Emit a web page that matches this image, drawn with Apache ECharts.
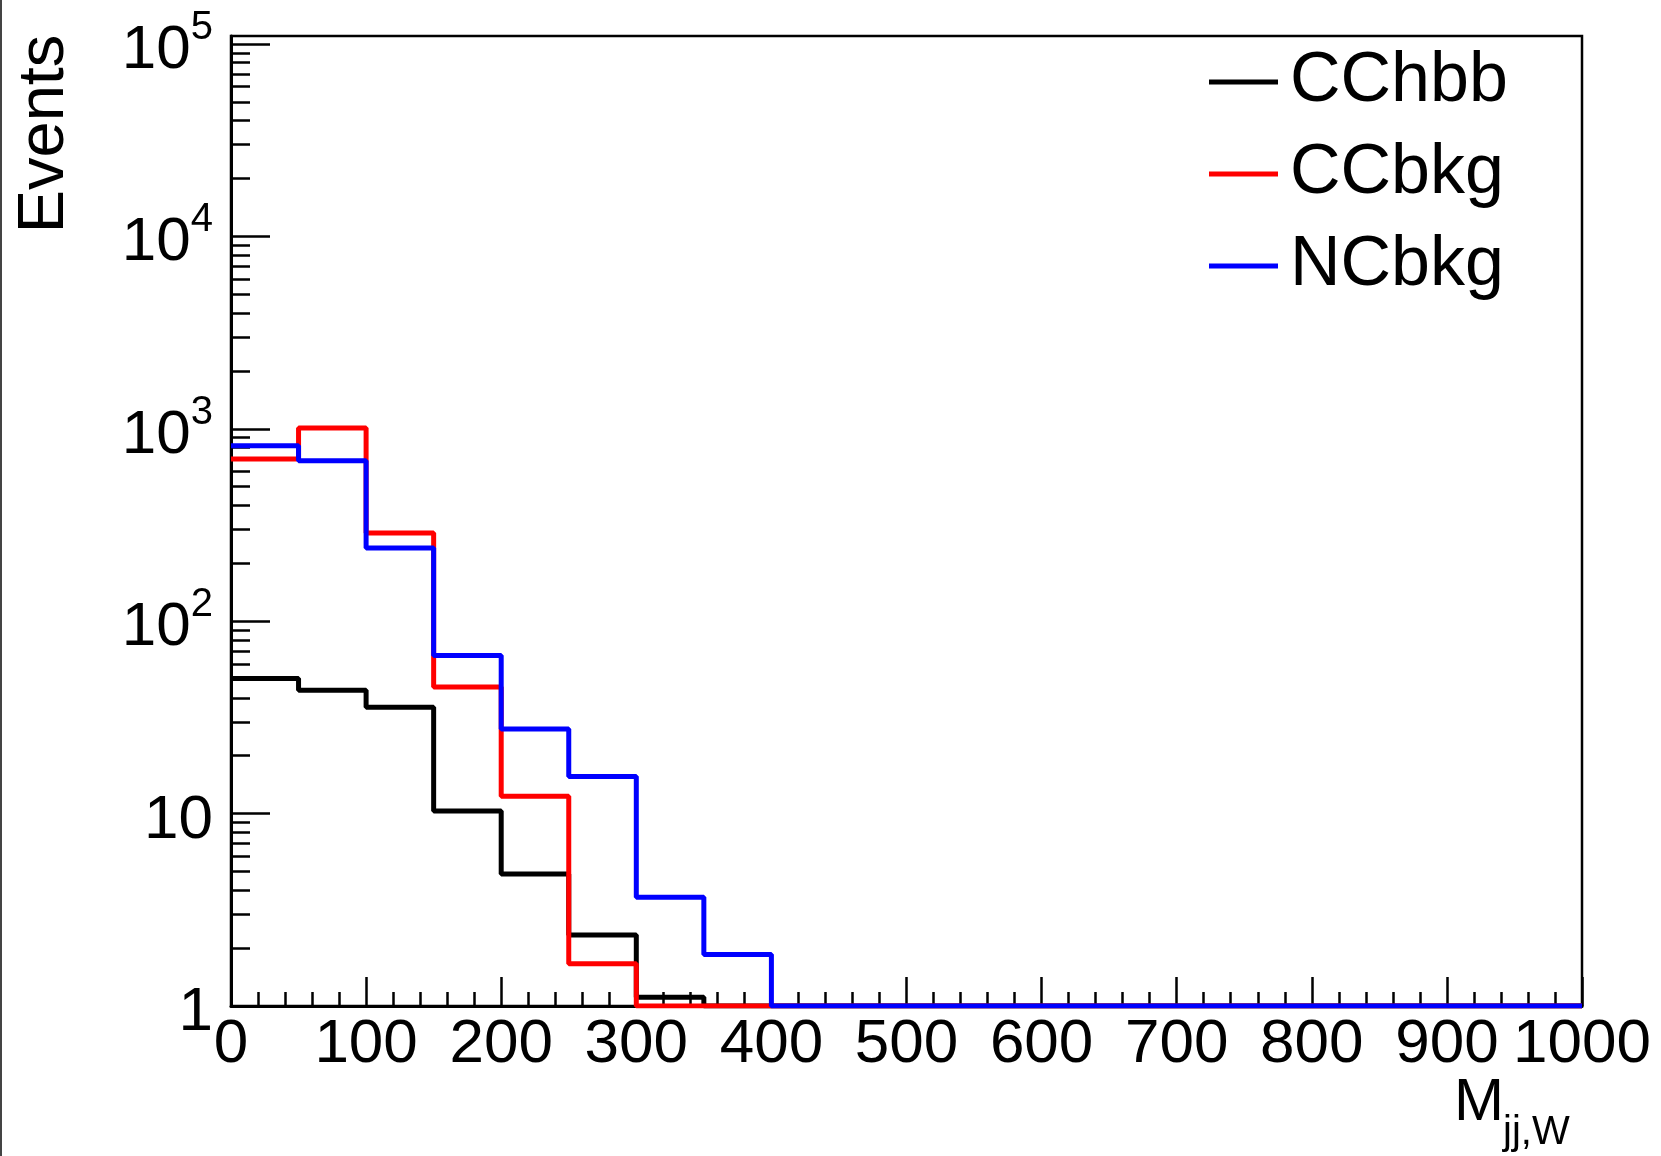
<!DOCTYPE html>
<html>
<head>
<meta charset="utf-8">
<script src="https://cdn.jsdelivr.net/npm/echarts@6/dist/echarts.min.js"></script>
<style>
html,body{margin:0;padding:0;background:#fff;}
#c{width:1661px;height:1156px;}
</style>
</head>
<body>
<div id="c"></div>
<script>
// Bin edges of M_jj,W (20 bins of width 50)
var binEdges = [0, 50, 100, 150, 200, 250, 300, 350, 400, 450, 500, 550, 600, 650, 700, 750, 800, 850, 900, 950, 1000];
// Bin contents (Events); empty bins = 0
var CChbb = [50.4, 43.7, 35.7, 10.3, 4.86, 2.34, 1.11, 0, 0, 0, 0, 0, 0, 0, 0, 0, 0, 0, 0, 0];
var CCbkg = [696, 1009, 287, 45.5, 12.3, 1.66, 0, 0, 0, 0, 0, 0, 0, 0, 0, 0, 0, 0, 0, 0];
var NCbkg = [816, 682, 240, 66.4, 27.5, 15.6, 3.67, 1.85, 0, 0, 0, 0, 0, 0, 0, 0, 0, 0, 0, 0];
var seriesNames = ['CChbb', 'CCbkg', 'NCbkg'];
var seriesColors = ['#000000', '#ff0000', '#0000ff'];
// Axis tick values / labels
var yMajorTicks = [1, 10, 100, 1000, 10000, 100000];
var xMajorTicks = [0, 100, 200, 300, 400, 500, 600, 700, 800, 900, 1000];
var Y_MIN = 1, Y_MAX = 110000;

var yMinorTicks = [];
for (var d = 0; d < 5; d++) {
  for (var k = 2; k <= 9; k++) yMinorTicks.push(k * Math.pow(10, d));
}

function histData(vals) {
  var pts = [];
  for (var i = 0; i < vals.length; i++) {
    pts.push([binEdges[i], Math.max(vals[i], Y_MIN)]);
  }
  pts.push([binEdges[binEdges.length - 1], Math.max(vals[vals.length - 1], Y_MIN)]);
  return pts;
}

var FONT = '"Liberation Sans", Arial, Helvetica, sans-serif';
var allVals = [CChbb, CCbkg, NCbkg];
var series = seriesNames.map(function (n, i) {
  return {
    name: n,
    type: 'line',
    step: 'end',
    data: histData(allVals[i]),
    symbol: 'none',
    color: seriesColors[i],
    lineStyle: { width: 5, color: seriesColors[i] },
    clip: true,
    z: 3 + i,
    animation: false
  };
});

var chart = echarts.init(document.getElementById('c'), null, { renderer: 'canvas' });
chart.setOption({
  backgroundColor: '#ffffff',
  animation: false,
  grid: {
    left: 231, top: 36, right: 79, bottom: 150,
    show: true, borderColor: '#000', borderWidth: 2.5, backgroundColor: 'transparent'
  },
  legend: {
    orient: 'vertical',
    left: 1209, top: 42,
    padding: 0,
    itemWidth: 69, itemHeight: 5, itemGap: 12,
    icon: 'rect',
    data: seriesNames,
    textStyle: { fontFamily: FONT, fontSize: 70, lineHeight: 80, color: '#000', padding: [0, 0, 0, 7] }
  },
  xAxis: [{
    type: 'value', min: 0, max: 1000, interval: 100,
    axisLine: { show: true, onZero: false, lineStyle: { color: '#000', width: 3 } },
    axisTick: { show: true, inside: true, length: 29, lineStyle: { color: '#000', width: 2.5 } },
    minorTick: { show: true, splitNumber: 5, length: 14, lineStyle: { color: '#000', width: 2.5 } },
    splitLine: { show: false },
    minorSplitLine: { show: false },
    axisLabel: {
      show: true, margin: 8, fontFamily: FONT, fontSize: 62, lineHeight: 62, color: '#000',
      customValues: xMajorTicks,
      formatter: function (v) { return String(v); }
    }
  }],
  yAxis: [{
    type: 'log', logBase: 10, min: Y_MIN, max: Y_MAX,
    axisLine: { show: true, onZero: false, lineStyle: { color: '#000', width: 3 } },
    axisTick: { show: true, inside: true, length: 39, customValues: yMajorTicks, lineStyle: { color: '#000', width: 2.5 } },
    splitLine: { show: false },
    axisLabel: {
      show: true, margin: 18, color: '#000', fontFamily: FONT,
      customValues: yMajorTicks,
      padding: [14, 0, 0, 0],
      formatter: function (v) {
        var e = Math.round(Math.log(v) / Math.LN10);
        if (e === 0) return '{b|1}';
        if (e === 1) return '{b|10}';
        return '{b|10}{s|' + e + '}';
      },
      rich: {
        b: { fontFamily: FONT, fontSize: 62, lineHeight: 86, color: '#000' },
        s: { fontFamily: FONT, fontSize: 40, lineHeight: 40, verticalAlign: 'top', color: '#000' }
      }
    }
  }, {
    type: 'log', logBase: 10, min: Y_MIN, max: Y_MAX, position: 'left',
    axisLine: { show: false },
    axisTick: { show: true, inside: true, length: 19, customValues: yMinorTicks, lineStyle: { color: '#000', width: 2.5 } },
    axisLabel: { show: false },
    splitLine: { show: false }
  }],
  graphic: [
    { type: 'rect', left: 0, top: 0, shape: { width: 2, height: 1156 }, style: { fill: '#444' }, silent: true },
    { type: 'text', x: 45, y: 134, rotation: Math.PI / 2,
      style: { text: 'Events', fontFamily: FONT, fontSize: 65, fill: '#000', align: 'center', verticalAlign: 'middle' } },
    { type: 'text', x: 1504, y: 1103, style: { text: 'M', fontFamily: FONT, fontSize: 60, fill: '#000', align: 'right', verticalAlign: 'middle' } },
    { type: 'text', x: 1503, y: 1133, style: { text: 'jj,W', fontFamily: FONT, fontSize: 40, fill: '#000', align: 'left', verticalAlign: 'middle' } }
  ],
  series: series
});
</script>
</body>
</html>
